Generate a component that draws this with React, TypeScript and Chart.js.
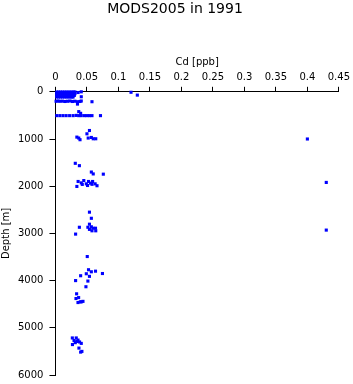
import React, { useEffect, useRef } from "react";
import { Chart, registerables } from "chart.js";

Chart.register(...registerables);

const chartTitle = "MODS2005 in 1991";
const xAxisTitle = "Cd [ppb]";
const yAxisTitle = "Depth [m]";
const xTickValues = [0, 0.05, 0.1, 0.15, 0.2, 0.25, 0.3, 0.35, 0.4, 0.45];
const xTickLabels = ["0", "0.05", "0.1", "0.15", "0.2", "0.25", "0.3", "0.35", "0.4", "0.45"];
const yTickValues = [0, 1000, 2000, 3000, 4000, 5000, 6000];
const yTickLabels = ["0", "1000", "2000", "3000", "4000", "5000", "6000"];

// [Cd (ppb), depth (m)]
const surfacePoints: [number, number][] = [
  [0.002, 5], [0.005, 5], [0.008, 5], [0.011, 5], [0.014, 5], [0.017, 5], [0.020, 5], [0.023, 5], [0.026, 5], [0.029, 5], [0.031, 5],
  [0.002, 40], [0.005, 40], [0.008, 40], [0.011, 40], [0.014, 40], [0.017, 40], [0.020, 40], [0.023, 40], [0.026, 40], [0.029, 40], [0.031, 40],
  [0.002, 75], [0.005, 75], [0.008, 75], [0.011, 75], [0.014, 75], [0.017, 75], [0.020, 75], [0.023, 75], [0.026, 75], [0.029, 75], [0.030, 75],
  [0.002, 110], [0.005, 110], [0.008, 110], [0.011, 110], [0.014, 110], [0.017, 110], [0.020, 110], [0.023, 110], [0.026, 110], [0.028, 110],
  [0.036, 15], [0.041, 0], [0.041, 105], [0.12, 10], [0.13, 70],
];
const upperPoints: [number, number][] = [
  [0.001, 200], [0.004, 195], [0.007, 200], [0.011, 198], [0.015, 205], [0.019, 200], [0.023, 195], [0.027, 205],
  [0.031, 200], [0.035, 210], [0.039, 205], [0.041, 195], [0.058, 210], [0.035, 260],
  [0.002, 505], [0.007, 505], [0.012, 505], [0.017, 505], [0.0225, 505], [0.028, 505], [0.033, 500], [0.037, 505],
  [0.041, 505], [0.046, 505], [0.050, 505], [0.054, 505], [0.058, 505], [0.0715, 505], [0.037, 420], [0.040, 456],
];
const kmPoints: [number, number][] = [
  [0.054, 820], [0.050, 890], [0.037, 980], [0.039, 1015], [0.034, 960], [0.052, 980], [0.057, 967], [0.060, 995], [0.064, 995],
  [0.40, 1000],
];
const twoKmPoints: [number, number][] = [
  [0.0315, 1515], [0.038, 1565], [0.057, 1700], [0.060, 1740], [0.076, 1745], [0.036, 1900], [0.041, 1930], [0.045, 1880],
  [0.0426, 1962], [0.034, 2005], [0.0525, 1900], [0.049, 1950], [0.0557, 1935], [0.059, 1900], [0.063, 1950], [0.066, 1990],
  [0.058, 1960], [0.051, 1985], [0.43, 1920],
];
const threeKmPoints: [number, number][] = [
  [0.054, 2550], [0.057, 2680], [0.054, 2805], [0.038, 2870], [0.032, 3015], [0.0515, 2870], [0.057, 2860], [0.054, 2915],
  [0.058, 2945], [0.0636, 2890], [0.064, 2945], [0.0595, 2890], [0.43, 2930],
];
const fourKmPoints: [number, number][] = [
  [0.0505, 3490], [0.0525, 3770], [0.049, 3855], [0.040, 3897], [0.054, 3910], [0.057, 3813], [0.0636, 3800], [0.0746, 3850],
  [0.032, 4000], [0.0515, 4010], [0.0484, 4130], [0.0336, 4280], [0.0326, 4380], [0.0368, 4360], [0.0358, 4465], [0.0394, 4450],
  [0.0437, 4440], [0.041, 4450],
];
const deepPoints: [number, number][] = [
  [0.0268, 5215], [0.033, 5215], [0.0295, 5270], [0.0358, 5260], [0.0315, 5315], [0.027, 5355], [0.0383, 5300], [0.041, 5330],
  [0.034, 5290], [0.0373, 5430], [0.040, 5515], [0.042, 5500],
];

const allPoints = [...surfacePoints, ...upperPoints, ...kmPoints, ...twoKmPoints, ...threeKmPoints, ...fourKmPoints, ...deepPoints];

const labelFor = (values: number[], labels: string[], v: number) => {
  const i = values.findIndex((t) => Math.abs(t - v) < 1e-9);
  return i >= 0 ? labels[i] : "";
};

export default function App() {
  const ref = useRef<HTMLCanvasElement | null>(null);
  useEffect(() => {
    document.body.style.margin = "0";
    if (!ref.current) return;
    const font = "'DejaVu Sans', sans-serif";
    const chart = new Chart(ref.current, {
      type: "scatter",
      data: {
        datasets: [
          {
            data: allPoints.map(([x, y]) => ({ x, y })),
            backgroundColor: "#0000ff",
            borderWidth: 0,
            pointStyle: "rect",
            pointRadius: 2.2,
            clip: false,
          } as any,
        ],
      },
      options: {
        animation: false,
        responsive: false,
        layout: { padding: { left: -1, right: 2, top: 0, bottom: 0 } },
        plugins: {
          legend: { display: false },
          tooltip: { enabled: false },
          title: {
            display: true,
            text: chartTitle,
            color: "#000",
            font: { family: font, size: 14, weight: "normal" },
            padding: { top: 1, bottom: 39 },
          },
        },
        scales: {
          x: {
            type: "linear",
            position: "top",
            min: 0,
            max: 0.45,
            ticks: {
              stepSize: 0.05,
              color: "#000",
              font: { family: font, size: 10 },
              padding: 3,
              maxRotation: 0,
              callback: (v: any) => labelFor(xTickValues, xTickLabels, Number(v)),
            },
            grid: { drawOnChartArea: false, color: "#000", tickLength: 5 },
            border: { color: "#000", width: 1 },
            title: { display: true, text: xAxisTitle, color: "#000", font: { family: font, size: 10 }, padding: { top: 0, bottom: 0 } },
          },
          y: {
            type: "linear",
            reverse: true,
            min: 0,
            max: 6000,
            afterFit: (scale: any) => {
              scale.paddingBottom = 9;
            },
            ticks: {
              stepSize: 1000,
              color: "#000",
              font: { family: font, size: 10 },
              padding: 6,
              callback: (v: any) => labelFor(yTickValues, yTickLabels, Number(v)),
            },
            grid: { drawOnChartArea: false, color: "#000", tickLength: 6 },
            border: { color: "#000", width: 1 },
            title: { display: true, text: yAxisTitle, color: "#000", font: { family: font, size: 10 }, padding: { top: 1, bottom: 0 } },
          },
        },
      },
    });
    return () => chart.destroy();
  }, []);
  return (
    <div style={{ width: 353, height: 384 }}>
      <canvas ref={ref} width={353} height={384} style={{ width: 353, height: 384 }} />
    </div>
  );
}
